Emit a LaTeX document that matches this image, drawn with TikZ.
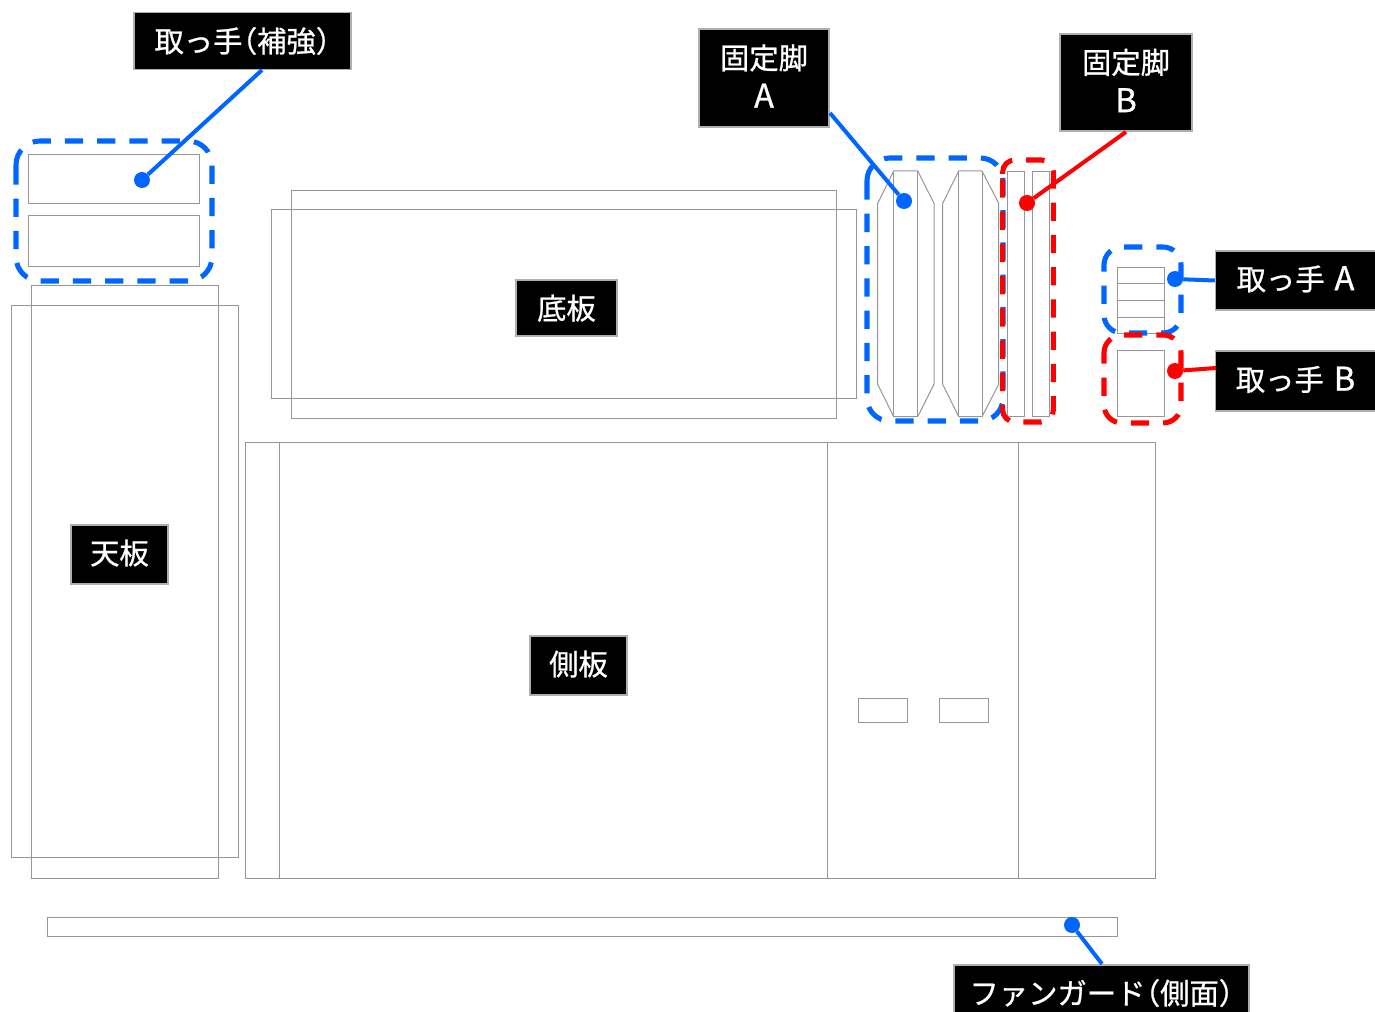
\documentclass[tikz,border=0pt]{standalone}
\usepackage{fontspec}
\setmainfont{Noto Sans CJK JP}[RawFeature={embolden=0.8}]
\usetikzlibrary{positioning}
\definecolor{linkblue}{RGB}{0,102,255}
\definecolor{linkred}{RGB}{255,0,0}
\definecolor{partgray}{RGB}{150,150,150}
\definecolor{labgray}{RGB}{175,175,175}
\newcommand{\lpar}{{\addfontfeatures{RawFeature=+halt}（}}
\newcommand{\rpar}{{\addfontfeatures{RawFeature=+halt}）}}
\newcommand{\tag}[1]{{\fontsize{24.5}{29}\selectfont #1}}

\begin{document}
\begin{tikzpicture}[
            x=.75pt,y=-.75pt,
            part/.style={draw=partgray,line width=.75pt},
            lab/.style={draw=labgray,fill=black,text=white,line width=1.1pt,inner sep=0,align=center,font=\fontsize{22}{29}\selectfont},
            frame/.style={dash pattern=on 13.7pt off 10.5pt,line width=3.8pt},
            blueframe/.style={frame,draw=linkblue},
            redframe/.style={frame,draw=linkred},
            bluelink/.style={draw=linkblue,line width=3pt},
            redlink/.style={draw=linkred,line width=3pt},
            bluedot/.style={circle,fill=linkblue,minimum size=12pt,inner sep=0},
            reddot/.style={circle,fill=linkred,minimum size=12pt,inner sep=0}
          ]
          \clip (0,0) rectangle (1375,1012);

          %handle reinforcement
          \draw[part] (28.5,154.3) rectangle (199.5,203.8);
          \draw[part] (28.5,215.8) rectangle (199.5,266.3);

          %top board
          \draw[part] (31.5,285.3) rectangle (218,878.3);
          \draw[part] (11,305.3) rectangle (238.5,857.3);

          %bottom board
          \draw[part] (291,190.3) rectangle (836,418.3);
          \draw[part] (271,209.3) rectangle (856,398.3);

          %side board
          \draw[part] (245,442.3) rectangle (1155,878.3);
          \draw[part] (279,442.3) -- (279,878.3);
          \draw[part] (827.5,442.3) -- (827.5,878.3);
          \draw[part] (1018,442.3) -- (1018,878.3);
          \draw[part] (858,698.5) rectangle (907,722);
          \draw[part] (939,698.5) rectangle (988,722);

          %fan guard
          \draw[part] (47,917.3) rectangle (1117,936.3);

          %legs
          \draw[part] (893.7,171) -- (877.7,203.3) -- (877.7,384.3) -- (893.7,416.7) -- (917.7,416.7) -- (934,384.3) -- (934,203.3) -- (917.7,171) -- cycle;
          \draw[part] (893.7,171) -- (893.7,416.7);
          \draw[part] (917.7,171) -- (917.7,416.7);
          \draw[part] (958.7,171) -- (942.7,203.3) -- (942.7,384.3) -- (958.7,416.7) -- (982,416.7) -- (998.7,384.3) -- (998.7,203.3) -- (982,171) -- cycle;
          \draw[part] (958.7,171) -- (958.7,416.7);
          \draw[part] (982,171) -- (982,416.7);
          \draw[part] (1007.7,172) rectangle (1024,416.7);
          \draw[part] (1032.3,172) rectangle (1049,416.7);

          %handles
          \draw[part] (1117.3,267.5) rectangle (1164,334);
          \foreach \y in {284,301,317.7}
            \draw[part] (1117.3,\y) -- (1164,\y);
          \draw[part] (1117.3,350.5) rectangle (1164,417);

          %dashed frames
          \draw[blueframe,rounded corners=18pt] (16,167) -- (16,141) -- (212,141) -- (212,281) -- (16,281) -- (16,167);
          \draw[blueframe,rounded corners=17pt] (867,183) -- (867,158) -- (1003,158) -- (1003,421) -- (867,421) -- (867,183);
          \draw[redframe,rounded corners=9pt] (1002.7,174) -- (1002.7,160) -- (1053.4,160) -- (1053.4,422) -- (1002.7,422) -- (1002.7,174);
          \draw[blueframe,rounded corners=13.5pt] (1104,267) -- (1104,247) -- (1181,247) -- (1181,333) -- (1104,333) -- (1104,267);
          \draw[redframe,rounded corners=13.5pt] (1104,355) -- (1104,335) -- (1181,335) -- (1181,423) -- (1104,423) -- (1104,355);

          %labels
          \node[lab,minimum width=162.75pt,minimum height=43pt] (hosei) at (242.5,41) {取っ手\lpar 補強\rpar};
          \node[lab,minimum width=97.5pt,minimum height=73.5pt,text depth=3pt] (lega) at (764,78) {固定脚\\\tag{A}};
          \node[lab,minimum width=99pt,minimum height=73pt,text depth=3pt] (legb) at (1126,82.5) {固定脚\\\tag{B}};
          \node[lab,minimum width=120pt,minimum height=44pt,text depth=4pt] (handa) at (1295.5,280.5) {取っ手\hspace{7.4pt}\tag{A}};
          \node[lab,minimum width=120pt,minimum height=45pt,text depth=4pt] (handb) at (1295.5,381) {取っ手\hspace{7.4pt}\tag{B}};
          \node[lab,minimum width=75.75pt,minimum height=42pt,text depth=1.5pt] (bottom) at (566.5,308) {底板};
          \node[lab,minimum width=72.75pt,minimum height=44pt,text depth=4pt] (top) at (119.5,554.5) {天板};
          \node[lab,minimum width=72.75pt,minimum height=44pt,text depth=4pt] (side) at (578.5,665.5) {側板};
          \node[lab,minimum width=221.25pt,minimum height=45pt,text depth=5pt] (fan) at (1101.5,995) {ファンガード\lpar 側面\rpar};

          %connectors
          \node[bluedot] (dothosei) at (142,180) {};
          \node[bluedot] (dota) at (904,201) {};
          \node[reddot] (dotb) at (1027,203) {};
          \node[bluedot] (dothanda) at (1175,279) {};
          \node[reddot] (dothandb) at (1175,371) {};
          \node[bluedot] (dotfan) at (1072,925) {};
          \coordinate (endhosei) at (262,70);
          \coordinate (enda) at (830,113);
          \coordinate (endhandb) at (1216,368);
          \coordinate (endfan) at (1102,964);
          \draw[bluelink] (endhosei) -- (dothosei);
          \draw[bluelink] (enda) -- (dota);
          \draw[redlink] (legb.south) -- (dotb);
          \draw[bluelink] (handa.west) -- (dothanda);
          \draw[redlink] (endhandb) -- (dothandb);
          \draw[bluelink] (endfan) -- (dotfan);
      \end{tikzpicture}
\end{document}
